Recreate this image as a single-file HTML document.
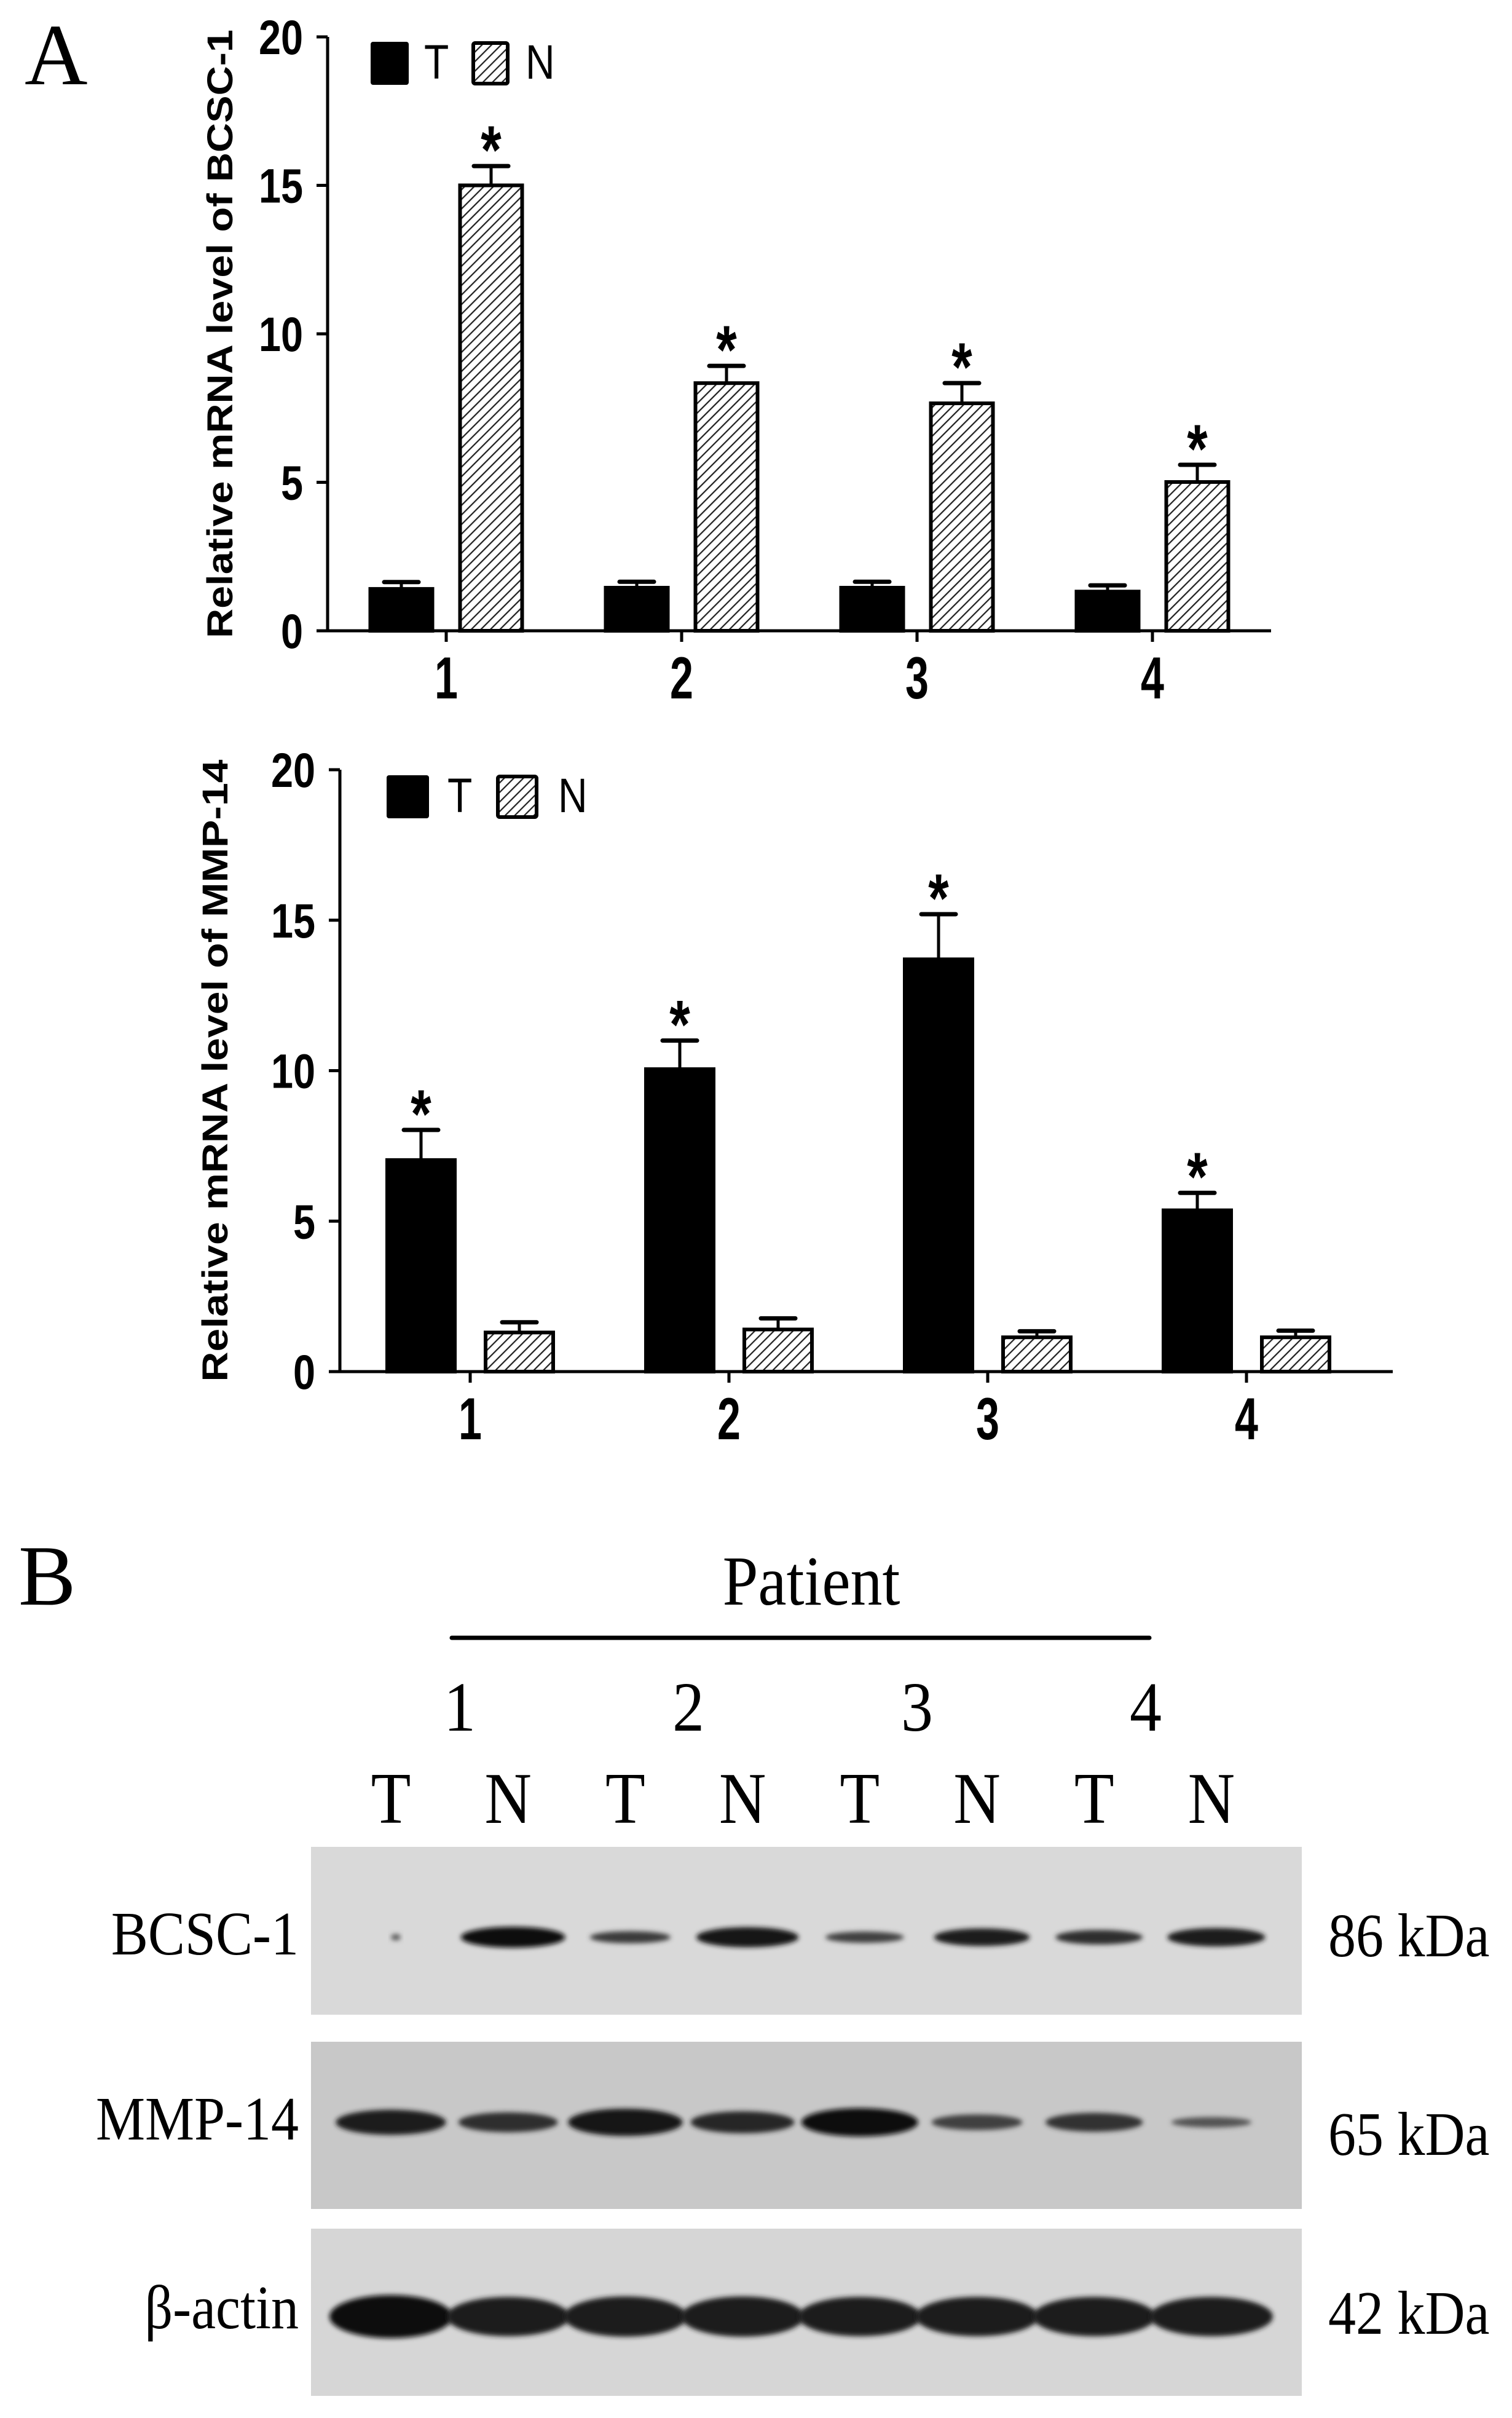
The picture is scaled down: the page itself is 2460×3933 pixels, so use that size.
<!DOCTYPE html>
<html><head><meta charset="utf-8"><style>
html,body{margin:0;padding:0;background:#fff;}
svg{display:block;}
.ax{font-family:"Liberation Sans",Arial,sans-serif;}
.tm{font-family:"Liberation Serif","Times New Roman",serif;}
</style></head><body>
<svg id="fig" width="2460" height="3933" viewBox="0 0 2460 3933" xmlns="http://www.w3.org/2000/svg">
<defs>
<pattern id="hatch" patternUnits="userSpaceOnUse" width="11" height="11" patternTransform="rotate(45)">
<rect width="11" height="11" fill="#fff"/>
<line x1="0" y1="0" x2="0" y2="11" stroke="#222" stroke-width="4.5"/>
</pattern>
<filter id="blur" x="-30%" y="-100%" width="160%" height="300%"><feGaussianBlur stdDeviation="4"/></filter>
</defs>
<text class="tm" x="40" y="137" font-size="142">A</text>
<g id="chart1"></g>
<g id="chart2"></g>

<g>
<text class="tm" x="30" y="2610" font-size="140">B</text>
<text class="tm" transform="translate(1320,2610) scale(1,1.1)" font-size="104" text-anchor="middle">Patient</text>
<line x1="735" y1="2664" x2="1870" y2="2664" stroke="#000" stroke-width="7" stroke-linecap="round"/>
<g id="blot"></g>
</g>
</svg>
<script>
// ---------- Chart data ----------
const categories = ["1","2","3","4"];
const yTicks = [0,5,10,15,20];
const bcscT = [1.41,1.45,1.45,1.32];
const bcscTErr = [0.23,0.2,0.2,0.21];
const bcscN = [15.0,8.34,7.66,5.01];
const bcscNErr = [0.65,0.58,0.68,0.58];
const bcscSig = ["N","N","N","N"];
const mmpT = [7.03,10.05,13.7,5.36];
const mmpTErr = [1.0,0.95,1.5,0.58];
const mmpN = [1.3,1.4,1.14,1.14];
const mmpNErr = [0.34,0.37,0.2,0.22];
const mmpSig = ["T","T","T","T"];

const NS = "http://www.w3.org/2000/svg";
function mk(tag, attrs, parent){
  const e = document.createElementNS(NS, tag);
  for (const k in attrs) e.setAttribute(k, attrs[k]);
  parent.appendChild(e);
  return e;
}

function drawChart(g, cfg, tVals, tErr, nVals, nErr, sig, label){
  const yScale = v => cfg.y0 - (cfg.y0 - cfg.yTop) * v / 20;
  const xScale = i => cfg.c0 + i * cfg.step;
  const ya = mk('line',{x1:cfg.x0,y1:cfg.yTop,x2:cfg.x0,y2:cfg.y0,stroke:'#000','stroke-width':5},g);
  
  
  const xa = mk('line',{x1:cfg.x0-2,y1:cfg.y0,x2:cfg.xEnd,y2:cfg.y0,stroke:'#000','stroke-width':5},g);
  
  
  yTicks.forEach(v=>{
    const y = yScale(v);
    const t = mk('line',{x1:cfg.x0-18,y1:y,x2:cfg.x0,y2:y,stroke:'#000','stroke-width':5},g);
    
    
    const tx = mk('text',{transform:`translate(${cfg.x0-40},${y+28}) scale(1.08,1.32)`,'font-size':60,'font-weight':'bold','text-anchor':'end',class:'ax'},g);
    tx.textContent = v;
    
    
  });
  categories.forEach((c,i)=>{
    const x = xScale(i);
    const t = mk('line',{x1:x,y1:cfg.y0,x2:x,y2:cfg.y0+18,stroke:'#000','stroke-width':5},g);
    
    
    const tx = mk('text',{transform:`translate(${x},${cfg.y0+110}) scale(1.1,1.55)`,'font-size':62,'font-weight':'bold','text-anchor':'middle',class:'ax'},g);
    tx.textContent = c;
    
    
    [['T',tVals,tErr,-cfg.off],['N',nVals,nErr,cfg.off]].forEach(([s,vals,errs,off])=>{
      const cx = x + off, w = cfg.bw;
      const top = yScale(vals[i]), etop = yScale(vals[i]+errs[i]);
      const el = mk('line',{x1:cx,y1:top,x2:cx,y2:etop,stroke:'#000','stroke-width':5},g);
      
      
      const cap = mk('line',{x1:cx-28,y1:etop,x2:cx+28,y2:etop,stroke:'#000','stroke-width':7,'stroke-linecap':'round'},g);
      
      
      const r = mk('rect',{x:cx-w/2,y:top,width:w,height:cfg.y0-top,fill:s==='T'?'#000':'url(#hatch)',stroke:'#000','stroke-width':6},g);
      
      
      if (sig[i]===s){
        const a = mk('text',{transform:`translate(${cx},${etop+12}) scale(1,1.3)`,'font-size':86,'font-weight':'bold','text-anchor':'middle',class:'ax'},g);
        a.textContent='*';
        
        
      }
    });
  });
  const L = cfg.leg;
  const lb = mk('rect',{x:L.x,y:L.y,width:L.w,height:L.h,rx:4,fill:'#000'},g);
  
  
  const lt = mk('text',{transform:`translate(${L.tx},${L.y+L.h-10}) scale(1,1.2)`,'font-size':66,class:'ax'},g);
  lt.textContent='T';
  
  
  const ln = mk('rect',{x:L.nx,y:L.y+2,width:L.w-6,height:L.h-4,fill:'url(#hatch)',stroke:'#000','stroke-width':6,rx:3},g);
  
  
  const lnt = mk('text',{transform:`translate(${L.ntx},${L.y+L.h-10}) scale(1,1.2)`,'font-size':66,class:'ax'},g);
  lnt.textContent='N';
  
  
  const cy = (cfg.yTop + cfg.y0)/2;
  const yl = mk('text',{x:0,y:0,'font-size':58,'font-weight':'bold','text-anchor':'middle',class:'ax',
    transform:`translate(${cfg.ylx},${cy}) rotate(-90)`,textLength:cfg.ylLen,lengthAdjust:'spacingAndGlyphs'},g);
  yl.textContent = label;
  
  
}

drawChart(document.getElementById('chart1'),
  {x0:533,y0:1026,yTop:60,xEnd:2068,c0:726,step:383,off:73,bw:101,ylx:378,ylLen:990,
   leg:{x:603,y:68,w:62,h:70,tx:690,nx:770,ntx:855}},
  bcscT,bcscTErr,bcscN,bcscNErr,bcscSig,"Relative mRNA level of BCSC-1");
drawChart(document.getElementById('chart2'),
  {x0:553,y0:2231,yTop:1252,xEnd:2266,c0:765,step:421,off:80,bw:110,ylx:370,ylLen:1012,
   leg:{x:629,y:1261,w:69,h:70,tx:728,nx:810,ntx:908}},
  mmpT,mmpTErr,mmpN,mmpNErr,mmpSig,"Relative mRNA level of MMP-14");

// ---------- Blot ----------
const laneLabels = ["T","N","T","N","T","N","T","N"];
const patientLabels = ["1","2","3","4"];
const bcscBand = [0.1,1.0,0.45,0.95,0.4,0.8,0.6,0.85];
const mmpBand = [0.85,0.6,0.95,0.7,1.0,0.4,0.55,0.15];
const actinBand = [1.0,0.8,0.85,0.85,0.8,0.8,0.8,0.8];
const blotRows = [
  {name:"BCSC-1", kda:"86 kDa", vals:bcscBand},
  {name:"MMP-14", kda:"65 kDa", vals:mmpBand},
  {name:"β-actin", kda:"42 kDa", vals:actinBand}
];
const blot = document.getElementById('blot');
const laneX = i => 636 + i * 190.7;
const patX = i => 748 + i * 372;
patientLabels.forEach((p,i)=>{
  const t = mk('text',{transform:`translate(${patX(i)},2815) scale(1,1.1)`,'font-size':104,'text-anchor':'middle',class:'tm'},blot);
  t.textContent=p;
  
  
});
laneLabels.forEach((l,i)=>{
  const t = mk('text',{transform:`translate(${laneX(i)},2965) scale(1,1.12)`,'font-size':106,'text-anchor':'middle',class:'tm'},blot);
  t.textContent=l;
  
  
});
const panelGeo = [{y:3004,h:273,fill:'#d9d9d9',by:3151,lbl:3179,kd:3182},
                  {y:3321,h:272,fill:'#c8c8c8',by:3452,lbl:3480,kd:3505},
                  {y:3625,h:272,fill:'#d6d6d6',by:3768,lbl:3787,kd:3796}];
blotRows.forEach((row,r)=>{
  const G = panelGeo[r];
  const bg = mk('rect',{x:506,y:G.y,width:1612,height:G.h,fill:G.fill},blot);
  
  
  row.vals.forEach((v,i)=>{
    let w, h;
    if (r===2){ w = 200; h = 40 + v*30; }
    else if (r===0){ w = v<0.2 ? 16 : 100 + v*70; h = v<0.2 ? 10 : 8 + v*26; }
    else { w = 120 + v*70; h = 12 + v*34; }
    const shade = Math.round(15 + (1-v)*80);
    const e = mk('ellipse',{cx:laneX(i)+(r===0?8:0),cy:G.by,rx:w/2,ry:h/2,fill:`rgb(${shade},${shade},${shade})`,filter:'url(#blur)'},blot);
    
    
  });
  const lt = mk('text',{transform:`translate(486,${G.lbl}) scale(1,1.12)`,'font-size':90,'text-anchor':'end',class:'tm'},blot);
  lt.textContent=row.name;
  
  
  const kt = mk('text',{transform:`translate(2161,${G.kd}) scale(1,1.12)`,'font-size':90,class:'tm'},blot);
  kt.textContent=row.kda;
  
  
});
</script>
</body></html>
